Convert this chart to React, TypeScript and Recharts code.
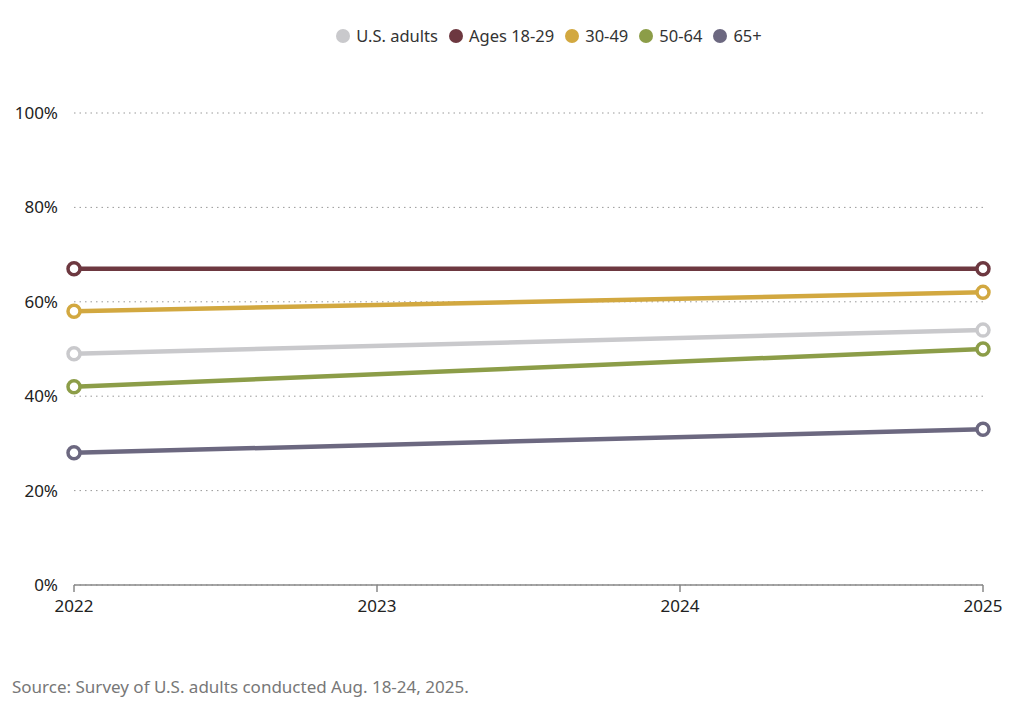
import React from 'react';
import { LineChart, Line, XAxis, YAxis, CartesianGrid } from 'recharts';

const years = [2022, 2025];
const usAdults = [49, 54];
const ages1829 = [67, 67];
const ages3049 = [58, 62];
const ages5064 = [42, 50];
const ages65 = [28, 33];
const xTicks = [2022, 2023, 2024, 2025];
const yTicks = [0, 20, 40, 60, 80, 100];

const series = [
  { key: 'us', name: 'U.S. adults', color: '#c9c9cc', values: usAdults },
  { key: 'a1829', name: 'Ages 18-29', color: '#6d3840', values: ages1829 },
  { key: 'a3049', name: '30-49', color: '#d2a840', values: ages3049 },
  { key: 'a5064', name: '50-64', color: '#8c9d48', values: ages5064 },
  { key: 'a65', name: '65+', color: '#6c6880', values: ages65 },
];

const data = years.map((year, i) => {
  const row: Record<string, number> = { year };
  series.forEach((s) => {
    row[s.key] = s.values[i];
  });
  return row;
});

const font = '"Noto Sans", "Open Sans", sans-serif';

const LegendRow = () => (
  <div style={{ position: 'absolute', left: 0, top: 24, width: 1098, display: 'flex', justifyContent: 'center', alignItems: 'center', gap: 11, fontFamily: font, fontSize: 16.5, color: '#333' }}>
    {series.map((s) => (
      <div key={s.key} style={{ display: 'flex', alignItems: 'center' }}>
        <span style={{ width: 14, height: 14, borderRadius: '50%', background: s.color, display: 'inline-block', marginRight: 6 }} />
        <span>{s.name}</span>
      </div>
    ))}
  </div>
);

const App = () => {
  return (
    <div style={{ position: 'absolute', left: 0, top: 0, width: 1024, height: 712, background: '#fff' }}>
      <LegendRow />
      <LineChart width={1024} height={640} data={data} margin={{ top: 113, right: 41, bottom: 25, left: 0 }}>
        <CartesianGrid vertical={false} stroke="#999" strokeDasharray="1.5 4" />
        <XAxis
          dataKey="year"
          type="number"
          domain={[2022, 2025]}
          ticks={xTicks}
          height={30}
          axisLine={{ stroke: '#888', strokeWidth: 1.5 }}
          tickLine={{ stroke: '#888', strokeWidth: 1.5 }}
          tickSize={7}
          tickMargin={8}
          tick={{ fill: '#222', fontSize: 17, fontFamily: font }}
        />
        <YAxis
          domain={[0, 100]}
          ticks={yTicks}
          width={74}
          axisLine={false}
          tickLine={false}
          tickMargin={10}
          tickFormatter={(v) => `${v}%`}
          tick={{ fill: '#222', fontSize: 17, fontFamily: font }}
        />
        {series.map((s) => (
          <Line
            key={s.key}
            dataKey={s.key}
            name={s.name}
            stroke={s.color}
            strokeWidth={4.5}
            dot={{ r: 6, fill: '#fff', stroke: s.color, strokeWidth: 3.5 }}
            activeDot={false}
            isAnimationActive={false}
          />
        ))}
      </LineChart>
      <div style={{ position: 'absolute', left: 12, top: 675, fontFamily: font, fontSize: 17, color: '#777' }}>
        Source: Survey of U.S. adults conducted Aug. 18-24, 2025.
      </div>
    </div>
  );
};

export default App;
